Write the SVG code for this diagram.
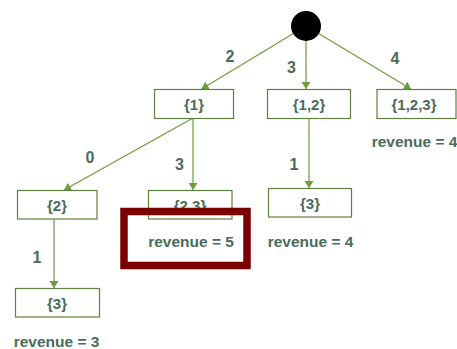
<svg xmlns="http://www.w3.org/2000/svg" width="457" height="349" viewBox="0 0 457 349">
  <style>
    .box { fill: #ffffff; stroke: #5e8040; stroke-width: 1.2; }
    .edge { stroke: #6f9c3d; stroke-width: 1.2; fill: none; marker-end: url(#arrow); }
    .lbl { font-family: "Liberation Sans", Arial, sans-serif; font-weight: bold; font-size: 15px; fill: #4a6b5c; text-anchor: middle; dominant-baseline: central; }
    .num { font-size: 16px; }
    .rev { font-size: 15.5px; }
  </style>
  <defs>
    <marker id="arrow" markerUnits="userSpaceOnUse" markerWidth="8" markerHeight="10" refX="7" refY="4.5" orient="auto">
      <path d="M0,0 L7,4.5 L0,9 z" fill="#6f9c3d"/>
    </marker>
  </defs>
  <rect width="457" height="349" fill="#ffffff"/>

  <!-- connectors -->
  <g id="connectors">
    <line class="edge" x1="293" y1="33.7" x2="201.5" y2="89"/>
    <line class="edge" x1="306" y1="41" x2="306" y2="89"/>
    <line class="edge" x1="319" y1="33.7" x2="411" y2="89"/>
    <line class="edge" x1="193" y1="118" x2="64" y2="190"/>
    <line class="edge" x1="193" y1="118" x2="193" y2="190"/>
    <line class="edge" x1="309" y1="118" x2="309" y2="188"/>
    <line class="edge" x1="54" y1="219" x2="54" y2="288"/>
    <text class="lbl num" x="230" y="56">2</text>
    <text class="lbl num" x="291.5" y="67">3</text>
    <text class="lbl num" x="395" y="58.5">4</text>
    <text class="lbl num" x="90" y="157">0</text>
    <text class="lbl num" x="179.5" y="164">3</text>
    <text class="lbl num" x="294" y="164">1</text>
    <text class="lbl num" x="37" y="257">1</text>
  </g>

  <!-- root -->
  <g id="root">
    <circle cx="306" cy="26" r="15" fill="#000000"/>
  </g>

  <g id="n1">
    <rect class="box" x="154.5" y="89.5" width="79" height="29"/>
    <text class="lbl" x="194" y="104">{1}</text>
  </g>
  <g id="n12">
    <rect class="box" x="267.5" y="89.5" width="83" height="29"/>
    <text class="lbl" x="309" y="104">{1,2}</text>
  </g>
  <g id="n123">
    <rect class="box" x="377" y="89.5" width="79" height="29"/>
    <text class="lbl" x="414" y="104">{1,2,3}</text>
    <text class="lbl rev" x="414.5" y="141">revenue = 4</text>
  </g>
  <g id="n2">
    <rect class="box" x="17.5" y="190.5" width="79.5" height="28.5"/>
    <text class="lbl" x="57" y="205">{2}</text>
  </g>
  <g id="n23">
    <rect class="box" x="148.5" y="190.5" width="83.5" height="28.5"/>
    <text class="lbl" x="190" y="205">{2,3}</text>
    <text class="lbl rev" x="191" y="241.5">revenue = 5</text>
  </g>
  <g id="n12-3">
    <rect class="box" x="268.5" y="188.5" width="83" height="28.5"/>
    <text class="lbl" x="310" y="203">{3}</text>
    <text class="lbl rev" x="310.5" y="241">revenue = 4</text>
  </g>
  <g id="n2-3">
    <rect class="box" x="15.5" y="288.5" width="84" height="28.5"/>
    <text class="lbl" x="57" y="303">{3}</text>
    <text class="lbl rev" x="56.5" y="341.5">revenue = 3</text>
  </g>

  <!-- highlight frame -->
  <g id="highlight">
    <rect x="124" y="211.5" width="123" height="54" fill="none" stroke="#7b0000" stroke-width="7.5"/>
  </g>
</svg>
